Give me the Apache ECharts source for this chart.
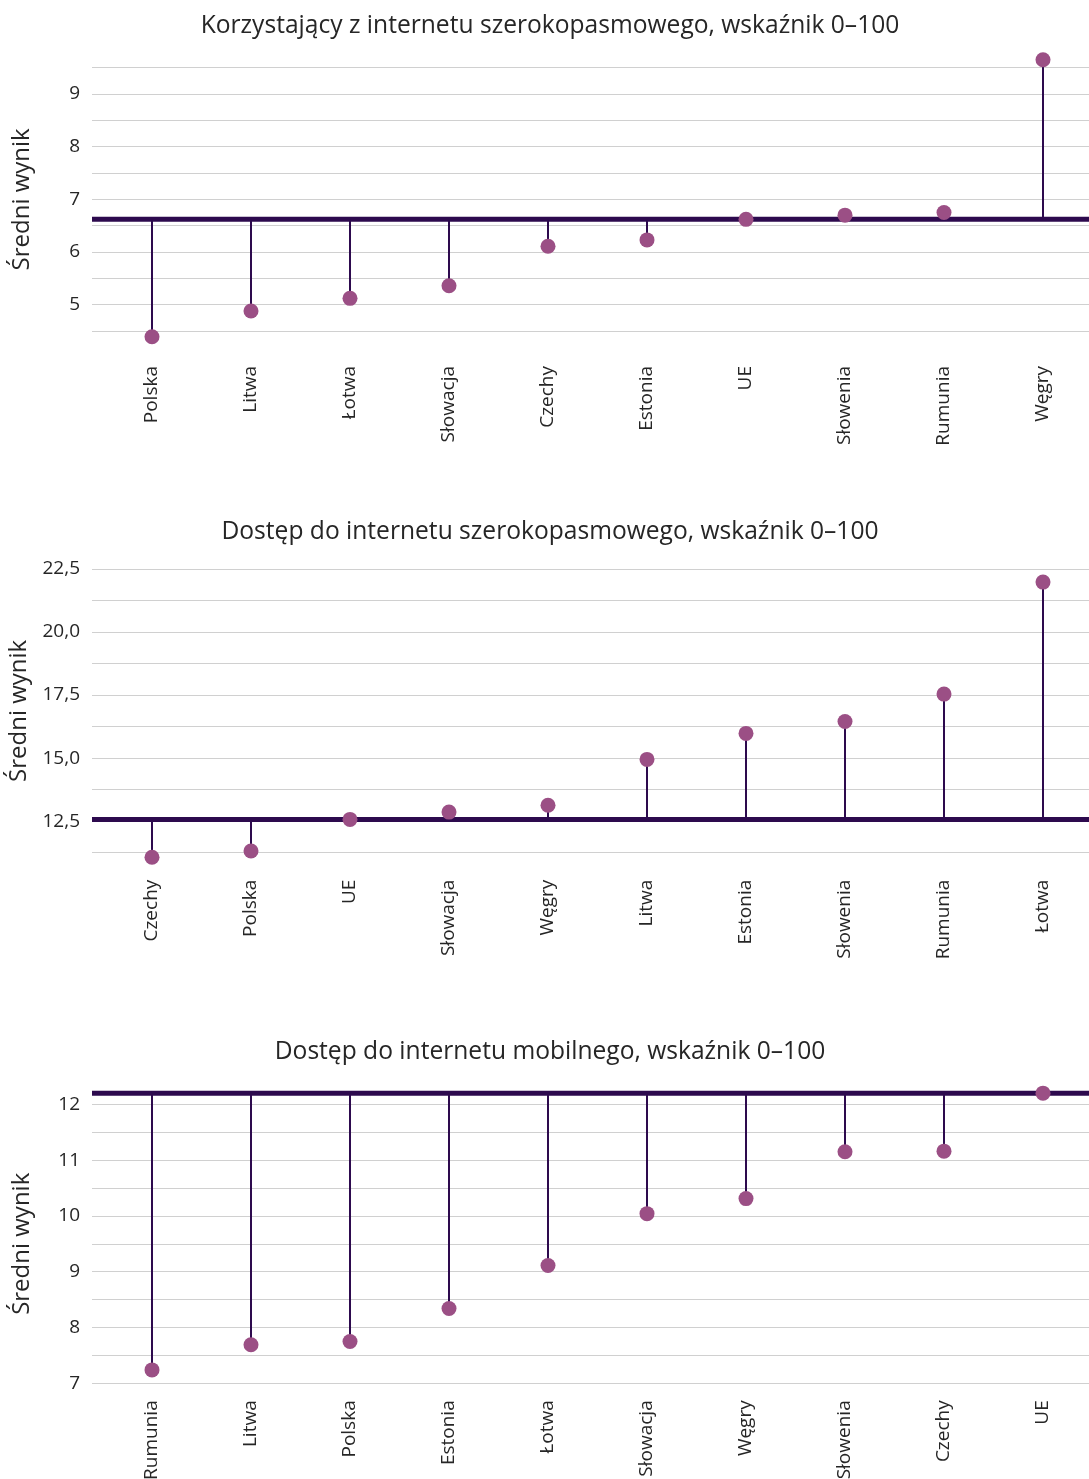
<!DOCTYPE html>
<html lang="pl">
<head>
<meta charset="utf-8">
<title>Wskaźniki internetu szerokopasmowego i mobilnego</title>
<script src="https://cdn.jsdelivr.net/npm/echarts@6/dist/echarts.min.js"></script>
<style>
  html, body { margin: 0; padding: 0; background: #ffffff; }
  #chart { width: 1089px; height: 1479px; }
</style>
</head>
<body>
<div id="chart"></div>
<script>
// Panel 1: korzystający z internetu szerokopasmowego
const titleUse = 'Korzystający z internetu szerokopasmowego, wskaźnik 0–100';
const countriesUse = ['Polska', 'Litwa', 'Łotwa', 'Słowacja', 'Czechy', 'Estonia', 'UE', 'Słowenia', 'Rumunia', 'Węgry'];
const valuesUse = [4.39, 4.88, 5.12, 5.36, 6.11, 6.23, 6.62, 6.70, 6.75, 9.65];
const baseUse = 6.62;

// Panel 2: dostęp do internetu szerokopasmowego
const titleAccess = 'Dostęp do internetu szerokopasmowego, wskaźnik 0–100';
const countriesAccess = ['Czechy', 'Polska', 'UE', 'Słowacja', 'Węgry', 'Litwa', 'Estonia', 'Słowenia', 'Rumunia', 'Łotwa'];
const valuesAccess = [11.07, 11.32, 12.57, 12.86, 13.13, 14.95, 15.98, 16.45, 17.54, 21.98];
const baseAccess = 12.57;

// Panel 3: dostęp do internetu mobilnego
const titleMobile = 'Dostęp do internetu mobilnego, wskaźnik 0–100';
const countriesMobile = ['Rumunia', 'Litwa', 'Polska', 'Estonia', 'Łotwa', 'Słowacja', 'Węgry', 'Słowenia', 'Czechy', 'UE'];
const valuesMobile = [7.24, 7.69, 7.75, 8.34, 9.11, 10.04, 10.31, 11.15, 11.16, 12.2];
const baseMobile = 12.2;

const axisName = 'Średni wynik';

const FONT = 'Open Sans';
const TEXT = '#262626';
const DOT = '#9b4f85';
const STEM = '#2d0a4e';
const GRID_LINE = '#d0d0d0';

function fmtComma(v) { return v.toFixed(1).replace('.', ','); }

const panels = [
  {
    title: titleUse, titleTop: 13, names: countriesUse, values: valuesUse, base: baseUse,
    top: 67.7, bottom: 331, min: 4.5, max: 9.5, interval: 0.5, labelMargin: 35,
    fmt: v => (Math.abs(v - Math.round(v)) < 1e-9 ? String(Math.round(v)) : '')
  },
  {
    title: titleAccess, titleTop: 519, names: countriesAccess, values: valuesAccess, base: baseAccess,
    top: 569, bottom: 852.7, min: 11.25, max: 22.5, interval: 1.25, labelMargin: 27,
    fmt: v => { const k = (v - 12.5) / 2.5; return Math.abs(k - Math.round(k)) < 1e-9 ? fmtComma(v) : ''; }
  },
  {
    title: titleMobile, titleTop: 1039, names: countriesMobile, values: valuesMobile, base: baseMobile,
    top: 1104.3, bottom: 1383.3, min: 7, max: 12, interval: 0.5, labelMargin: 17,
    fmt: v => (Math.abs(v - Math.round(v)) < 1e-9 ? String(Math.round(v)) : '')
  }
];

const option = {
  backgroundColor: '#ffffff',
  animation: false,
  textStyle: { fontFamily: FONT, color: TEXT },
  title: [],
  grid: [],
  xAxis: [],
  yAxis: [],
  series: []
};

panels.forEach((p) => {
  const height = p.bottom - p.top;
  const gFrame = option.grid.length;       // full-width frame: gridlines, baseline
  const gData = gFrame + 1;                // category band for the lollipops

  option.title.push({
    text: p.title, left: 550, textAlign: 'center', top: p.titleTop, padding: 0,
    textStyle: { fontFamily: FONT, fontSize: 24.6, fontWeight: 'normal', color: TEXT }
  });

  // fixed plot rectangles; labels may run past the page edge
  option.grid.push({ left: 92, right: 0, top: p.top, height: height, containLabel: false, outerBoundsMode: 'none' });
  option.grid.push({ left: 102.5, width: 990, top: p.top, height: height, containLabel: false, outerBoundsMode: 'none' });

  option.xAxis.push({ gridIndex: gFrame, type: 'value', min: 0, max: 1, show: false });
  option.xAxis.push({
    gridIndex: gData, type: 'category', data: p.names, boundaryGap: true,
    axisLine: { show: false }, axisTick: { show: false }, splitLine: { show: false },
    axisLabel: { rotate: 90, margin: p.labelMargin, interval: 0, fontFamily: FONT, fontSize: 19, color: TEXT }
  });

  option.yAxis.push({
    gridIndex: gFrame, type: 'value', min: p.min, max: p.max, interval: p.interval,
    name: axisName, nameLocation: 'middle', nameGap: 58, nameRotate: 90,
    nameTextStyle: { fontFamily: FONT, fontSize: 24, color: TEXT },
    axisLine: { show: false }, axisTick: { show: false },
    axisLabel: { margin: 12, fontFamily: FONT, fontSize: 19, color: TEXT, formatter: p.fmt, showMinLabel: true, showMaxLabel: true },
    splitLine: { show: true, lineStyle: { color: GRID_LINE, width: 1.2 } }
  });
  option.yAxis.push({
    gridIndex: gData, type: 'value', min: p.min, max: p.max, interval: p.interval, show: false,
    splitLine: { show: false }
  });

  // thick reference line at the EU level, spanning the whole frame
  option.series.push({
    type: 'custom', xAxisIndex: gFrame, yAxisIndex: gFrame, z: 3, silent: true,
    data: [[0, p.base]],
    renderItem: (params, api) => {
      const y = api.coord([0, api.value(1)])[1];
      const cs = params.coordSys;
      return {
        type: 'line',
        shape: { x1: cs.x, y1: y, x2: cs.x + cs.width, y2: y },
        style: { stroke: STEM, lineWidth: 5 }
      };
    }
  });

  // stems from the reference line to each value
  option.series.push({
    type: 'custom', xAxisIndex: gData, yAxisIndex: gData, z: 4, silent: true,
    data: p.values.map((v, k) => [k, v]),
    renderItem: (params, api) => {
      const a = api.coord([api.value(0), p.base]);
      const b = api.coord([api.value(0), api.value(1)]);
      return {
        type: 'line',
        shape: { x1: a[0], y1: a[1], x2: b[0], y2: b[1] },
        style: { stroke: STEM, lineWidth: 2 }
      };
    }
  });

  // value markers
  option.series.push({
    type: 'scatter', xAxisIndex: gData, yAxisIndex: gData, z: 5, clip: false,
    symbol: 'circle', symbolSize: 15,
    itemStyle: { color: DOT, opacity: 1 },
    data: p.values.map((v, k) => [k, v])
  });
});

const chart = echarts.init(document.getElementById('chart'), null, { renderer: 'canvas' });
chart.setOption(option);
</script>
</body>
</html>
